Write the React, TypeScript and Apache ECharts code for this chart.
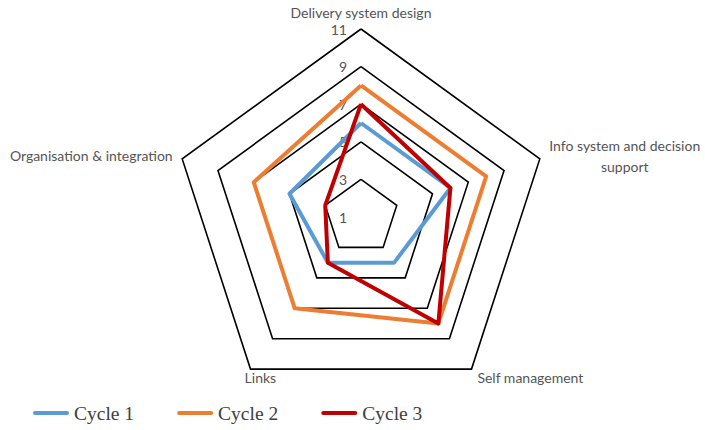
import React, { useEffect, useRef } from "react";
import * as echarts from "echarts";

// Indicators listed in ECharts' counter-clockwise order starting at the top
const indicatorNames = [
  "Delivery system design",
  "Organisation & integration",
  "Links",
  "Self management",
  "Info system and decision support",
];
const axisMin = 1;
const axisMax = 11;
const splitCount = 5;

const seriesNames = ["Cycle 1", "Cycle 2", "Cycle 3"];
const cycle1 = [6, 5, 4, 4, 6];
const cycle2 = [8, 7, 7, 8, 8];
const cycle3 = [7, 3, 4, 8, 6];
const seriesColors = ["#5B9BD5", "#ED7D31", "#C00000"];

const capsule =
  "path://M2,0 L34,0 A2,2 0 0 1 34,4 L2,4 A2,2 0 0 1 2,0 Z";

export default function App() {
  const ref = useRef<HTMLDivElement>(null);

  useEffect(() => {
    if (!ref.current) return;
    const chart = echarts.init(ref.current, null, { renderer: "svg" });
    const values = [cycle1, cycle2, cycle3];
    const option: any = {
      animation: false,
      backgroundColor: "#ffffff",
      legend: {
        left: 33,
        top: 403,
        padding: 0,
        itemWidth: 36,
        itemHeight: 5,
        itemGap: 43,
        icon: capsule,
        data: seriesNames,
        textStyle: {
          fontFamily: "Liberation Serif",
          fontSize: 19.5,
          color: "#404040",
        },
      },
      radar: {
        center: [361, 217],
        radius: 188,
        startAngle: 90,
        shape: "polygon",
        splitNumber: splitCount,
        nameGap: 10,
        axisName: {
          color: "#555555",
          fontFamily: "Lato",
          fontSize: 14,
          formatter: (name: string) =>
            name === indicatorNames[4]
              ? "{c|Info system and decision}\n{c|support}"
              : name,
          rich: {
            c: {
              align: "center",
              color: "#555555",
              fontFamily: "Lato",
              fontSize: 14,
              lineHeight: 21,
            },
          },
        },
        axisLine: { show: false },
        axisTick: { show: false },
        splitArea: { show: false },
        splitLine: { lineStyle: { color: "#000000", width: 1.6 } },
        axisLabel: {
          show: true,
          color: "#555555",
          fontFamily: "Lato",
          fontSize: 14,
          margin: 14,
        },
        indicator: indicatorNames.map((n, i) => {
          const o: any = { name: n, min: axisMin, max: axisMax };
          if (i !== 0) o.axisLabel = { show: false };
          if (i === 2) o.nameTextStyle = { align: "left" };
          return o;
        }),
      },
      series: [
        {
          type: "radar",
          symbol: "none",
          data: seriesNames.map((s, i) => ({
            name: s,
            value: values[i],
            itemStyle: { color: seriesColors[i] },
            lineStyle: { color: seriesColors[i], width: 4, join: "round" },
          })),
        },
      ],
    };
    chart.setOption(option);
    return () => chart.dispose();
  }, []);

  return (
    <div
      ref={ref}
      style={{ position: "fixed", left: 0, top: 0, width: 705, height: 430 }}
    />
  );
}
